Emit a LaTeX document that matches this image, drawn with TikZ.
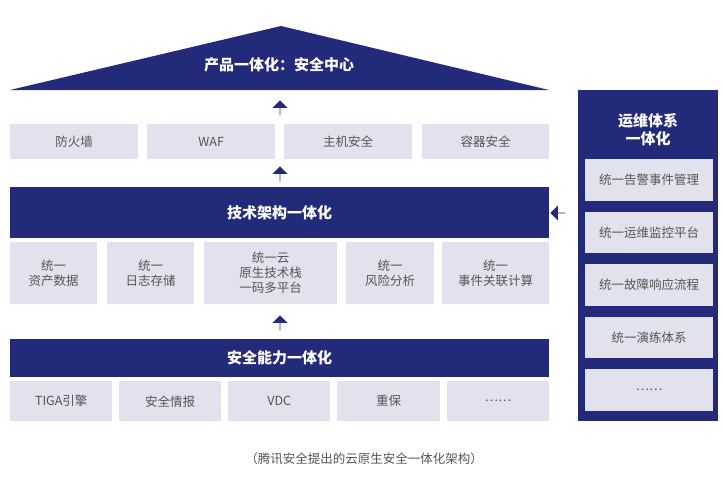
\documentclass[tikz,border=0pt]{standalone}
\usepackage{fontspec}
\setmainfont{Noto Sans CJK SC}
\usetikzlibrary{positioning,shapes.arrows}
\definecolor{navy}{HTML}{232A7A}
\definecolor{lightbox}{HTML}{E2E2EF}
\definecolor{boxtext}{HTML}{555555}
\begin{document}
\begin{tikzpicture}[x=1pt,y=-1pt]

  \tikzstyle{cell}=[rectangle,
    fill=lightbox,text=boxtext,anchor=north west,
    inner sep=0pt,align=center,font=\fontsize{12.5}{15}\selectfont
  ]

  \tikzstyle{bar}=[rectangle,
    fill=navy,text=white,anchor=north west,
    inner sep=0pt,font=\fontsize{15}{18}\selectfont\bfseries
  ]

  \tikzstyle{uparrow}=[single arrow,fill=navy,
    minimum width=15pt,single arrow head extend=3pt,
    minimum height=15pt,inner sep=0pt,shape border rotate=90
  ]

  \useasboundingbox (0,0) rectangle (725,485);

  % roof
  \fill[navy] (10,90) -- (281,26) -- (549,90) -- cycle;
  \node[text=white,font=\fontsize{15}{18}\selectfont\bfseries] (roof) at (279,65) {产品一体化：安全中心};

  \node[uparrow] (up1) at (280,108) {};
  \node[cell,minimum width=128pt,minimum height=35pt] (fw)  at (10,124)  {防火墙};
  \node[cell,minimum width=128pt,minimum height=35pt] (waf) at (147,124) {WAF};
  \node[cell,minimum width=128pt,minimum height=35pt] (hs)  at (284,124) {主机安全};
  \node[cell,minimum width=127pt,minimum height=35pt] (cs)  at (422,124) {容器安全};

  \node[uparrow] (up2) at (280,174) {};
  \node[bar,minimum width=539pt,minimum height=51pt] (tech) at (10,187) {技术架构一体化};

  \node[cell,minimum width=87pt,minimum height=62pt]  (asset) at (10,242)  {统一\\资产数据};
  \node[cell,minimum width=87pt,minimum height=62pt]  (log)   at (107,242) {统一\\日志存储};
  \node[cell,minimum width=133pt,minimum height=62pt] (stack) at (204,242) {统一云\\原生技术栈\\一码多平台};
  \node[cell,minimum width=88pt,minimum height=62pt]  (risk)  at (346,242) {统一\\风险分析};
  \node[cell,minimum width=107pt,minimum height=62pt] (event) at (442,242) {统一\\事件关联计算};

  \node[uparrow] (up3) at (280,323) {};
  \node[bar,minimum width=539pt,minimum height=38pt] (sec) at (10,339) {安全能力一体化};

  \node[cell,minimum width=102pt,minimum height=40pt] (tiga) at (10,381)  {TIGA引擎};
  \node[cell,minimum width=102pt,minimum height=40pt] (intel) at (119,381) {安全情报};
  \node[cell,minimum width=102pt,minimum height=40pt] (vdc)  at (228,381) {VDC};
  \node[cell,minimum width=103pt,minimum height=40pt] (zb)   at (337,381) {重保};
  \node[cell,minimum width=102pt,minimum height=40pt] (more) at (447,381) {……};

  % ops panel
  \node[bar,minimum width=140pt,minimum height=331pt] (ops) at (578,90) {};
  \node[text=white,align=center,font=\fontsize{15}{18}\selectfont\bfseries] (opst) at (648,130) {运维体系\\一体化};
  \node[cell,minimum width=128pt,minimum height=42pt] (alarm) at (585,159) {统一告警事件管理};
  \node[cell,minimum width=128pt,minimum height=41pt] (mon)   at (585,212) {统一运维监控平台};
  \node[cell,minimum width=128pt,minimum height=42pt] (fault) at (585,264) {统一故障响应流程};
  \node[cell,minimum width=128pt,minimum height=41pt] (drill) at (585,317) {统一演练体系};
  \node[cell,minimum width=128pt,minimum height=42pt] (omore) at (585,369) {……};

  \node[uparrow,shape border rotate=180] (left) at (558,213) {};

  \node[text=boxtext,font=\fontsize{12.5}{15}\selectfont] (cap) at (364,459) {（腾讯安全提出的云原生安全一体化架构）};
\end{tikzpicture}
\end{document}
